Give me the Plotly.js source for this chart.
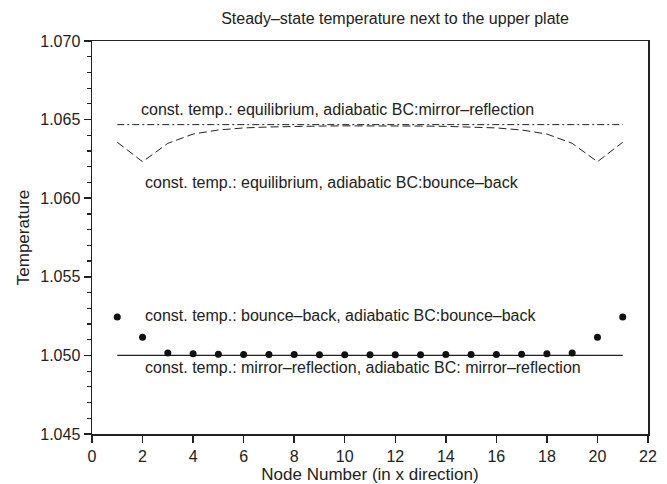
<!DOCTYPE html>
<html>
<head>
<meta charset="utf-8">
<script src="https://cdn.plot.ly/plotly-3.0.1.min.js"></script>
<style>html,body{margin:0;padding:0;background:#fff;}#chart{width:667px;height:484px;}</style>
</head>
<body>
<div id="chart"></div>
<script>
// Node numbers
const nodes = [1,2,3,4,5,6,7,8,9,10,11,12,13,14,15,16,17,18,19,20,21];
// const. temp.: equilibrium, adiabatic BC: mirror-reflection
const eqMirror = [1.06468,1.06468,1.06468,1.06468,1.06468,1.06468,1.06468,1.06468,1.06468,1.06468,1.06468,1.06468,1.06468,1.06468,1.06468,1.06468,1.06468,1.06468,1.06468,1.06468,1.06468];
// const. temp.: equilibrium, adiabatic BC: bounce-back
const eqBounce = [1.06356,1.06232,1.06349,1.06408,1.06434,1.06447,1.06453,1.06457,1.06459,1.06460,1.06461,1.06460,1.06459,1.06457,1.06453,1.06447,1.06434,1.06408,1.06349,1.06232,1.06356];
// const. temp.: bounce-back, adiabatic BC: bounce-back
const bbBounce = [1.05244,1.05116,1.05015,1.05010,1.05008,1.05006,1.05005,1.05005,1.05004,1.05004,1.05004,1.05004,1.05004,1.05005,1.05005,1.05006,1.05008,1.05010,1.05015,1.05116,1.05244];
// const. temp.: mirror-reflection, adiabatic BC: mirror-reflection
const mrMirror = [1.05,1.05,1.05,1.05,1.05,1.05,1.05,1.05,1.05,1.05,1.05,1.05,1.05,1.05,1.05,1.05,1.05,1.05,1.05,1.05,1.05];

const labels = [
  "const. temp.: equilibrium, adiabatic BC:mirror\u2013reflection",
  "const. temp.: equilibrium, adiabatic BC:bounce\u2013back",
  "const. temp.: bounce\u2013back, adiabatic BC:bounce\u2013back",
  "const. temp.: mirror\u2013reflection, adiabatic BC: mirror\u2013reflection"
];
const labelX = [1.85, 2, 2, 2];
const labelY = [1.06567, 1.06097, 1.05257, 1.0492];

const xTickVals = [0,2,4,6,8,10,12,14,16,18,20,22];
const yTickVals = [1.045,1.050,1.055,1.060,1.065,1.070];
const yTickText = ["1.045","1.050","1.055","1.060","1.065","1.070"];

const FONT = "Liberation Sans, Arial, Helvetica, sans-serif";
const ink = "#222";

const traces = [
  {x: nodes, y: eqMirror, mode: "lines", line: {color: ink, width: 1, dash: "7px,3px,2px,3px"}, hoverinfo: "skip"},
  {x: nodes, y: eqBounce, mode: "lines", line: {color: ink, width: 1, dash: "8px,4px"}, hoverinfo: "skip"},
  {x: nodes, y: mrMirror, mode: "lines", line: {color: ink, width: 1.2}, hoverinfo: "skip"},
  {x: nodes, y: bbBounce, mode: "markers", marker: {color: "#111", size: 7}, hoverinfo: "skip"}
];

const annotations = labels.map((t, i) => ({
  x: labelX[i], y: labelY[i], xref: "x", yref: "y", text: t, showarrow: false,
  xanchor: "left", yanchor: "middle", font: {family: FONT, size: 16, color: ink}
}));

const layout = {
  width: 667, height: 484,
  margin: {l: 92, r: 19, t: 41, b: 50},
  paper_bgcolor: "#fff", plot_bgcolor: "#fff",
  showlegend: false,
  font: {family: FONT, size: 16, color: ink},
  title: {text: "Steady\u2013state temperature next to the upper plate", x: 0.545, xref: "paper", xanchor: "center", y: 0.963, yanchor: "middle", font: {family: FONT, size: 16, color: ink}},
  xaxis: {
    range: [0, 22], tickvals: xTickVals, ticktext: xTickVals.map(String),
    ticks: "outside", ticklen: 7, tickwidth: 1.5, tickcolor: ink,
    showline: true, linecolor: ink, linewidth: 1.5, mirror: true,
    showgrid: false, zeroline: false,
    tickfont: {family: FONT, size: 16, color: ink},
    title: {text: "Node Number (in x direction)", standoff: 2, font: {family: FONT, size: 17, color: ink}}
  },
  yaxis: {
    range: [1.045, 1.070], tickvals: yTickVals, ticktext: yTickText,
    ticks: "outside", ticklen: 7, tickwidth: 1.5, tickcolor: ink,
    minor: {dtick: 0.001, ticks: "outside", ticklen: 4, tickwidth: 1.2, tickcolor: ink, showgrid: false},
    showline: true, linecolor: ink, linewidth: 1.5, mirror: true,
    showgrid: false, zeroline: false,
    tickfont: {family: FONT, size: 16, color: ink},
    title: {text: "Temperature", standoff: 6, font: {family: FONT, size: 17, color: ink}}
  },
  annotations: annotations
};

Plotly.newPlot("chart", traces, layout, {staticPlot: true, displayModeBar: false});
</script>
</body>
</html>
